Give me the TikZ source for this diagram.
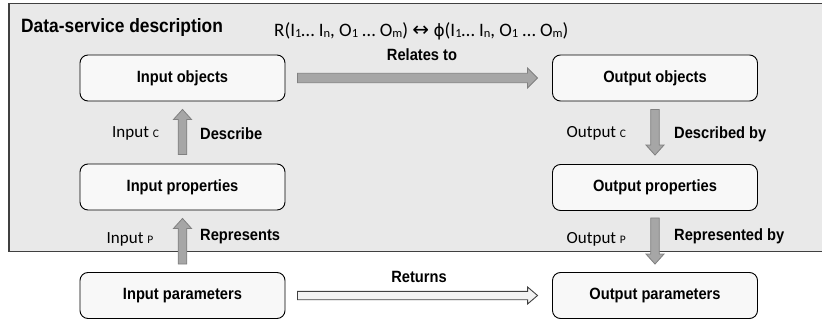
\documentclass[tikz,border=0pt]{standalone}
\usepackage{fontspec}
\setmainfont{Carlito}
\newfontfamily\bcond[FakeStretch=0.9]{Liberation Sans}
\newfontfamily\dvs{DejaVu Sans}
\usetikzlibrary{calc}
\definecolor{panelbg}{HTML}{E9E9E9}
\definecolor{panelline}{HTML}{404040}
\definecolor{boxfill}{HTML}{F8F8F8}
\definecolor{arrfill}{HTML}{A6A6A6}
\definecolor{arrline}{HTML}{808080}
\definecolor{retfill}{HTML}{F2F2F2}
\newcommand\lsub[1]{{\fontsize{11.5}{12}\selectfont\raisebox{-0.6pt}{#1}}}
\newcommand\fsub[1]{{\fontsize{12.5}{13}\selectfont\raisebox{-0.8pt}{#1}}}
\newcommand\blockarrow[6]{%
  \path (#2) coordinate (ba-s) (#3) coordinate (ba-e);
  \path ($(ba-e)!#6!(ba-s)$) coordinate (ba-h);
  \draw[#1] ($(ba-s)!#4!90:(ba-e)$) -- ($(ba-h)!#4!90:(ba-e)$)
    -- ($(ba-h)!#5!90:(ba-e)$) -- (ba-e) -- ($(ba-h)!#5!-90:(ba-e)$)
    -- ($(ba-h)!#4!-90:(ba-e)$) -- ($(ba-s)!#4!-90:(ba-e)$) -- cycle;}
\tikzset{
  x=1pt, y=-1pt,
  box/.style={draw=black, line width=0.9pt, fill=boxfill, rounded corners=8pt,
    minimum width=205pt, minimum height=46pt, inner sep=0pt,
    font=\bcond\bfseries\fontsize{16.3}{17}\selectfont},
  blabel/.style={inner sep=0pt, font=\bcond\bfseries\fontsize{16.3}{17}\selectfont},
  rlabel/.style={inner sep=0pt, font=\fontsize{17}{18}\selectfont},
  grayarrow/.style={fill=arrfill, draw=arrline, line width=0.8pt, line join=miter},
  whitearrow/.style={fill=retfill, draw=panelline, line width=0.9pt, line join=miter},
}
\begin{document}
\begin{tikzpicture}
\useasboundingbox (0,0) rectangle (822,321);
\begin{scope}
\clip (0,0) rectangle (822,321);
\draw[fill=panelbg, draw=panelline, line width=1.4pt] (9,3.5) rectangle (830,251.5);
\end{scope}
\node[anchor=west, inner sep=0pt, font=\bcond\bfseries\fontsize{19.3}{20}\selectfont] (title) at (21,27.5) {Data-service description};
\node[anchor=west, inner sep=0pt, font=\fontsize{19}{20}\selectfont] (formula) at (274,31.5) {R(I\fsub{1}… I\fsub{n}, O\fsub{1} … O\fsub{m}) {\dvs\fontsize{20}{20}\selectfont ↔} {\dvs\fontsize{17}{18}\selectfont ϕ}(I\fsub{1}… I\fsub{n}, O\fsub{1} … O\fsub{m})};

\node[box] (iobj) at (182.5,78) {Input objects};
\node[box] (oobj) at (655,78) {Output objects};
\node[box] (iprop) at (182.5,187) {Input properties};
\node[box] (oprop) at (655,187.5) {Output properties};
\node[box] (ipar) at (182.5,295.5) {Input parameters};
\node[box] (opar) at (655,295.5) {Output parameters};

\blockarrow{grayarrow}{[yshift=9pt]iprop.north}{[yshift=-8pt]iobj.south}{4.3pt}{9pt}{10pt}
\blockarrow{grayarrow}{[yshift=8pt]ipar.north}{[yshift=-8pt]iprop.south}{4.3pt}{9pt}{10pt}
\blockarrow{grayarrow}{[yshift=-8pt]oobj.south}{[yshift=9pt]oprop.north}{4.3pt}{9pt}{10pt}
\blockarrow{grayarrow}{[yshift=-7pt]oprop.south}{[yshift=8pt]opar.north}{4.3pt}{9pt}{10pt}
\blockarrow{grayarrow}{[xshift=12pt]iobj.east}{[xshift=-14.5pt]oobj.west}{4.7pt}{10pt}{10pt}
\blockarrow{whitearrow}{[xshift=12pt]ipar.east}{[xshift=-14.5pt]opar.west}{4.2pt}{8.5pt}{10pt}

\node[blabel] (relates) at (422,55) {Relates to};
\node[blabel] (returns) at (419,277) {Returns};
\node[rlabel, anchor=west] (inc) at (112,133) {Input \lsub{C}};
\node[blabel, anchor=west] (describe) at (200,134) {Describe};
\node[rlabel, anchor=west] (inp) at (106.5,239) {Input \lsub{P}};
\node[blabel, anchor=west] (represents) at (200,236.5) {Represents};
\node[rlabel, anchor=west] (outc) at (566.5,133) {Output \lsub{C}};
\node[blabel, anchor=west] (describedby) at (674,134) {Described by};
\node[rlabel, anchor=west] (outp) at (566.5,239) {Output \lsub{P}};
\node[blabel, anchor=west] (representedby) at (674,236.5) {Represented by};
\end{tikzpicture}
\end{document}
